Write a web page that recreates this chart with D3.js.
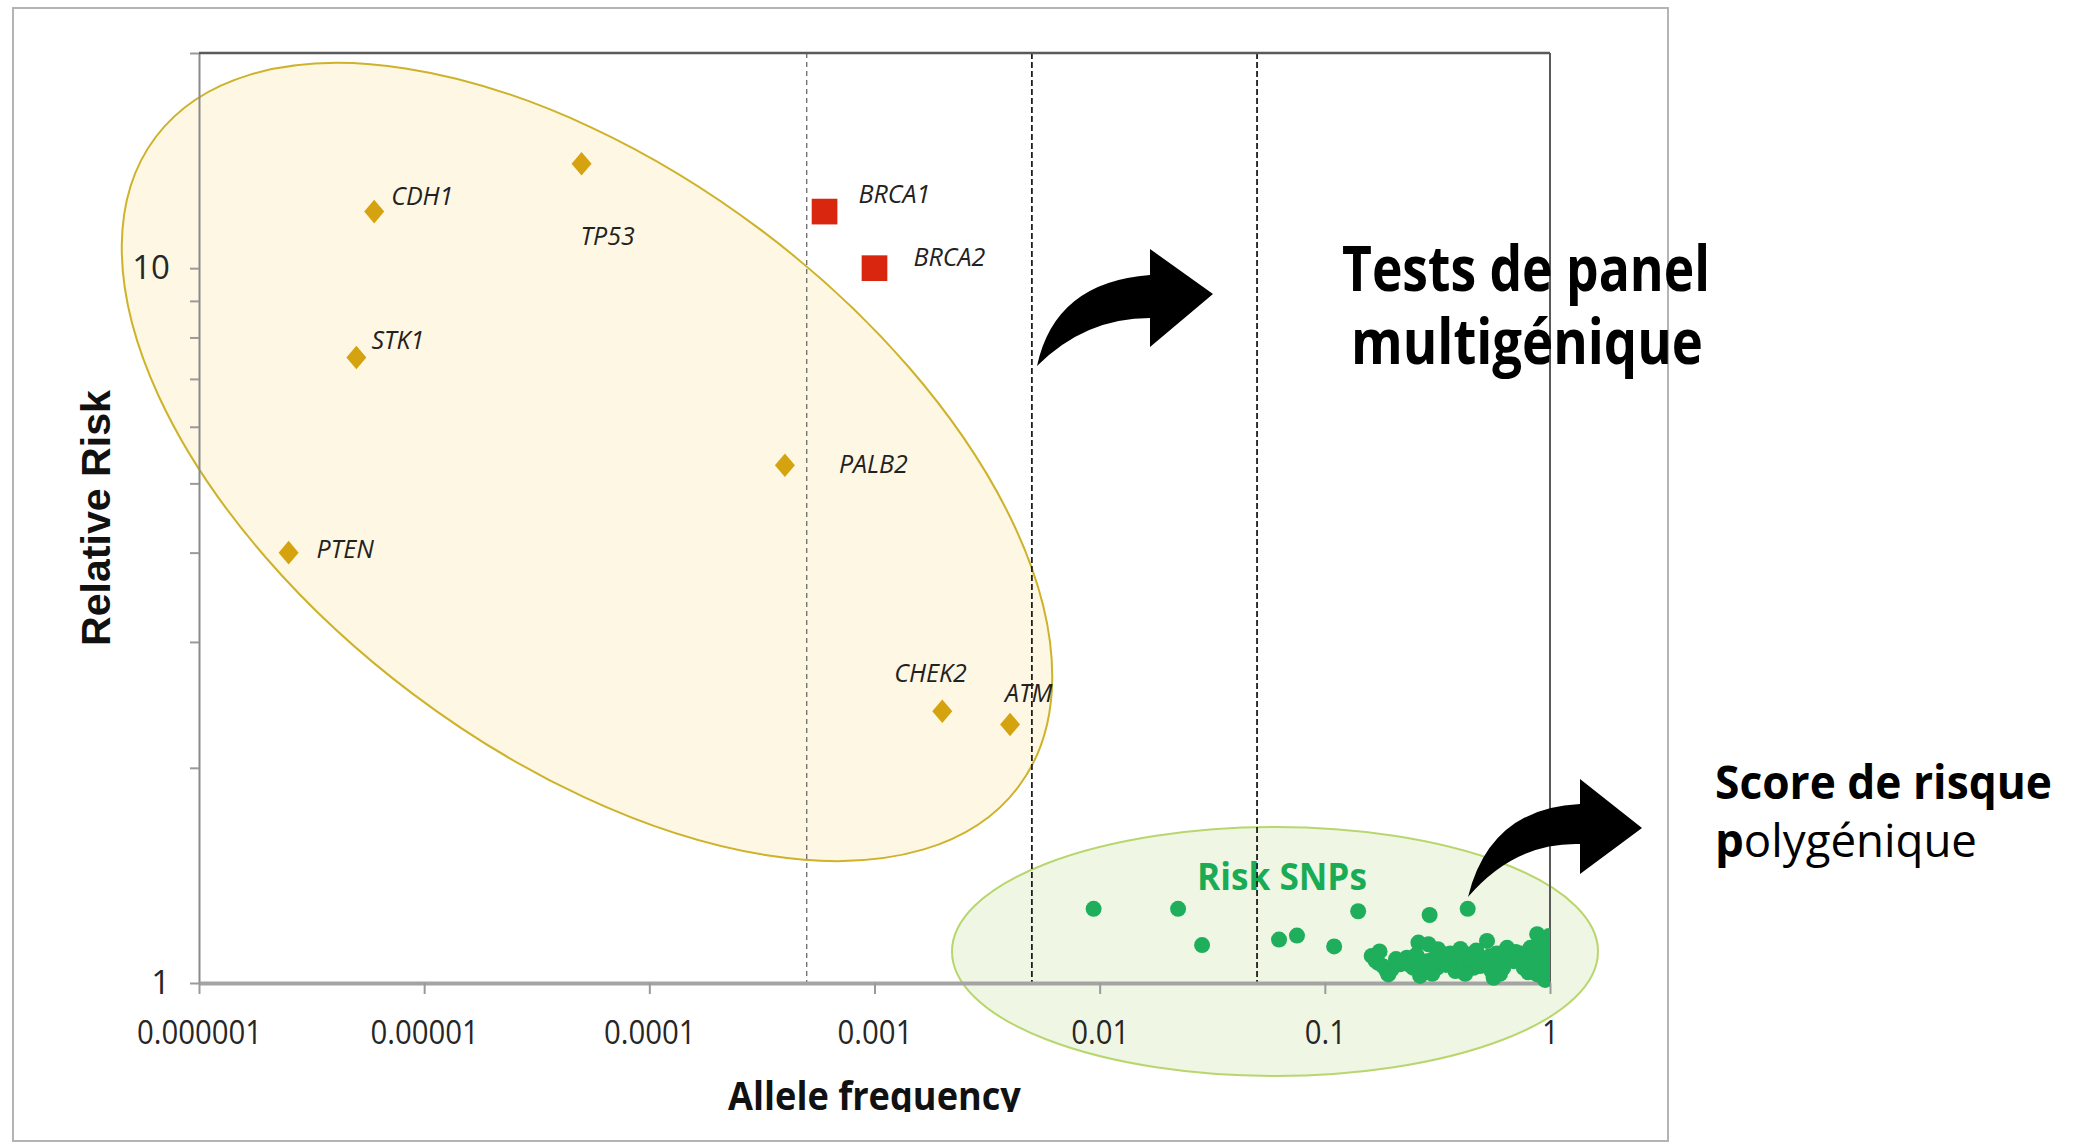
<!DOCTYPE html>
<html>
<head>
<meta charset="utf-8">
<script src="https://cdn.jsdelivr.net/npm/d3@7"></script>
<style>
  html, body { margin: 0; padding: 0; background: #ffffff; }
  svg { display: block; }
</style>
</head>
<body>
<svg id="chart" width="2077" height="1144"></svg>
<script>
// ---- Data -------------------------------------------------------------
// Moderate / high penetrance genes (allele frequency, relative risk)
const geneNames = ["CDH1", "TP53", "STK1", "PTEN", "PALB2", "CHEK2", "ATM"];
const geneFreq  = [6e-6, 5e-5, 5e-6, 2.5e-6, 4e-4, 0.002, 0.004];
const geneRisk  = [12, 14, 7.5, 4, 5.3, 2.4, 2.3];

// High penetrance BRCA genes
const brcaNames = ["BRCA1", "BRCA2"];
const brcaFreq  = [0.0006, 0.001];
const brcaRisk  = [12, 10];

// Common low-risk variants (risk SNPs)
const snpFreq = [
  0.0094, 0.0223, 0.0285, 0.0626, 0.0752, 0.110, 0.1406, 0.292, 0.431,
  0.1615, 0.1727, 0.1883, 0.1914, 0.2159, 0.2312, 0.2473, 0.2604, 0.2886, 0.2838,
  0.3145, 0.3485, 0.3861, 0.4277, 0.4577, 0.525, 0.5619, 0.6019, 0.6445, 0.69,
  0.7645, 0.8185, 0.877, 0.9072, 0.877, 0.99, 0.175, 0.207, 0.40, 0.49,
  0.74, 0.99, 0.99, 0.54, 0.38, 0.265, 0.33, 0.6, 0.95, 0.72,
  0.168, 0.182, 0.198, 0.222, 0.238, 0.255, 0.272, 0.30, 0.318, 0.345,
  0.36, 0.415, 0.44, 0.47, 0.505, 0.58, 0.62, 0.66, 0.705, 0.78,
  0.80, 0.84, 0.86, 0.93, 0.97, 0.965, 0.92, 0.55, 0.42, 0.30
];
const snpRisk = [
  1.27, 1.27, 1.13, 1.15, 1.165, 1.125, 1.26, 1.245, 1.27,
  1.091, 1.067, 1.039, 1.028, 1.062, 1.085, 1.05, 1.139, 1.133, 1.073,
  1.05, 1.085, 1.073, 1.097, 1.05, 1.145, 1.017, 1.073, 1.12, 1.073,
  1.05, 1.12, 1.17, 1.12, 1.028, 1.097, 1.107, 1.08, 1.116, 1.056,
  1.1, 1.039, 1.163, 1.09, 1.039, 1.023, 1.1, 1.03, 1.01, 1.08,
  1.075, 1.055, 1.045, 1.072, 1.06, 1.095, 1.045, 1.078, 1.115, 1.06,
  1.10, 1.065, 1.08, 1.11, 1.075, 1.10, 1.05, 1.09, 1.105, 1.075,
  1.035, 1.09, 1.06, 1.075, 1.13, 1.06, 1.04, 1.04, 1.03, 1.03
];

// Frequency thresholds shown as dashed separators
const thresholds = [0.0005, 0.005, 0.05];

// Axis ticks
const xTicks = [1e-6, 1e-5, 1e-4, 1e-3, 1e-2, 1e-1, 1];
const xTickLabels = ["0.000001", "0.00001", "0.0001", "0.001", "0.01", "0.1", "1"];
const yTicks = [1, 2, 3, 4, 5, 6, 7, 8, 9, 10, 20];
const yTickLabels = ["1", "", "", "", "", "", "", "", "", "10", ""];

// Label placement next to each marker (pixels)
const labelOffset = {
  CDH1: [17, -7], TP53: [-1, 81], STK1: [15, -8], PTEN: [28, 5],
  PALB2: [54, 8], CHEK2: [-48, -29], ATM: [-5, -22],
  BRCA1: [34, -9], BRCA2: [39, -2]
};

// ---- Layout -----------------------------------------------------------
const sans = "'Open Sans', 'Noto Sans', sans-serif";
const plot = { left: 199, right: 1550, top: 53, bottom: 983 };

const svg = d3.select("#chart");
const x = d3.scaleLog().domain([1e-6, 1]).range([plot.left, plot.right]);
const y = d3.scaleLog().domain([1, 20]).range([plot.bottom, plot.top]);

// Text helper: draws text at (tx, ty) and squeezes it horizontally to a given width
function fitText(parent, tx, ty, width, build) {
  const g = parent.append("g").attr("transform", `translate(${tx},${ty})`);
  const t = g.append("text");
  build(t);
  const len = t.node().getComputedTextLength();
  if (width && len > 0) t.attr("transform", `scale(${width / len},1)`);
  return t;
}

// Panel frame
svg.append("rect")
  .attr("x", 13).attr("y", 8).attr("width", 1655).attr("height", 1133)
  .attr("fill", "#ffffff").attr("stroke", "#b4b4b4").attr("stroke-width", 2);

// ---- Grouping zones ---------------------------------------------------
// Rare / moderate-risk variants
svg.append("ellipse")
  .attr("transform", "translate(587,462) rotate(37)")
  .attr("rx", 540).attr("ry", 290)
  .attr("fill", "#fef7e3").attr("stroke", "#cdb22a").attr("stroke-width", 2);

// Common low-risk variants
svg.append("ellipse")
  .attr("cx", 1275).attr("cy", 951.5).attr("rx", 323).attr("ry", 124.5)
  .attr("fill", "#eff7e4")
  .attr("stroke", "#b9d66e").attr("stroke-width", 2);

// "Risk SNPs" group label
fitText(svg, 1197, 890, 170, t => t.text("Risk SNPs")
  .attr("font-family", sans).attr("font-weight", 700).attr("font-size", 37)
  .attr("fill", "#1aab55"));

// ---- Threshold lines --------------------------------------------------
svg.append("g").selectAll("line").data(thresholds).join("line")
  .attr("x1", d => x(d)).attr("x2", d => x(d))
  .attr("y1", plot.top).attr("y2", plot.bottom)
  .attr("stroke", (d, i) => i === 0 ? "#6a6a6a" : "#1e1e1e")
  .attr("stroke-width", (d, i) => i === 0 ? 1.3 : 1.8)
  .attr("stroke-dasharray", (d, i) => i === 0 ? "5,4" : "6,3");

// ---- Axes -------------------------------------------------------------
const yAxis = svg.append("g")
  .attr("transform", `translate(${plot.left},0)`)
  .call(d3.axisLeft(y).tickValues(yTicks).tickSize(9).tickSizeOuter(0).tickPadding(20)
    .tickFormat((d, i) => yTickLabels[i]));
yAxis.select(".domain").attr("stroke", "#8a8a8a").attr("stroke-width", 2);
yAxis.selectAll(".tick line").attr("stroke", "#9a9a9a").attr("stroke-width", 2);
yAxis.selectAll(".tick text")
  .attr("font-family", sans).attr("font-size", 33).attr("fill", "#262626");

// Top and right frame of the plot area
svg.append("line")
  .attr("x1", plot.left).attr("x2", plot.right).attr("y1", plot.top).attr("y2", plot.top)
  .attr("stroke", "#5a5a5a").attr("stroke-width", 2.5);
svg.append("line")
  .attr("x1", plot.right).attr("x2", plot.right).attr("y1", plot.top).attr("y2", plot.bottom)
  .attr("stroke", "#5a5a5a").attr("stroke-width", 2);

const xAxis = svg.append("g")
  .attr("transform", `translate(0,${plot.bottom})`)
  .call(d3.axisBottom(x).tickValues(xTicks).tickSize(11).tickSizeOuter(0)
    .tickFormat((d, i) => xTickLabels[i]));
xAxis.select(".domain").attr("stroke", "#a4a4a4").attr("stroke-width", 4);
xAxis.selectAll(".tick line").attr("stroke", "#9a9a9a").attr("stroke-width", 2);
xAxis.selectAll(".tick text")
  .attr("font-family", sans).attr("font-size", 33).attr("fill", "#262626")
  .attr("y", 61).attr("dy", 0)
  .attr("transform", "scale(0.89,1)");

// Axis titles
fitText(svg, 110, 518, 256, t => t.text("Relative Risk")
  .attr("text-anchor", "middle")
  .attr("font-family", "'Liberation Sans', Arial, sans-serif")
  .attr("font-weight", 700).attr("font-size", 40).attr("fill", "#111"))
  .node().parentNode.setAttribute("transform", "translate(110,518) rotate(-90)");

svg.append("clipPath").attr("id", "titleClip")
  .append("rect").attr("x", 0).attr("y", 0).attr("width", 2077).attr("height", 1112);
const xTitle = svg.append("g").attr("clip-path", "url(#titleClip)");
fitText(xTitle, 728, 1110, 293, t => t.text("Allele frequency")
  .attr("font-family", sans).attr("font-weight", 700).attr("font-size", 40).attr("fill", "#111"));

// ---- Markers ----------------------------------------------------------
const tallDiamond = {
  draw(ctx, size) {
    const r = Math.sqrt(size) / 2;
    ctx.moveTo(0, -r * 1.18); ctx.lineTo(r, 0); ctx.lineTo(0, r * 1.18); ctx.lineTo(-r, 0);
    ctx.closePath();
  }
};

const genes = geneNames.map((n, i) => ({ name: n, f: geneFreq[i], r: geneRisk[i] }));
const brca = brcaNames.map((n, i) => ({ name: n, f: brcaFreq[i], r: brcaRisk[i] }));
const snps = snpFreq.map((f, i) => ({ f, r: snpRisk[i] }));

svg.append("g").selectAll("path").data(genes).join("path")
  .attr("transform", d => `translate(${x(d.f)},${y(d.r)})`)
  .attr("d", d3.symbol().type(tallDiamond).size(400))
  .attr("fill", "#d5a30f");

svg.append("g").selectAll("path").data(brca).join("path")
  .attr("transform", d => `translate(${x(d.f)},${y(d.r)})`)
  .attr("d", d3.symbol().type(d3.symbolSquare).size(660))
  .attr("fill", "#d8260f");

svg.append("g").selectAll("text").data(genes.concat(brca)).join("text")
  .attr("x", d => x(d.f) + labelOffset[d.name][0])
  .attr("y", d => y(d.r) + labelOffset[d.name][1])
  .attr("font-family", sans).attr("font-style", "italic").attr("font-size", 25)
  .attr("fill", "#222")
  .text(d => d.name);

svg.append("clipPath").attr("id", "plotClip")
  .append("rect").attr("x", plot.left).attr("y", 0)
  .attr("width", plot.right - plot.left).attr("height", plot.bottom + 20);

svg.append("g").attr("clip-path", "url(#plotClip)")
  .selectAll("circle").data(snps).join("circle")
  .attr("cx", d => x(d.f)).attr("cy", d => y(d.r)).attr("r", 8)
  .attr("fill", "#1fae5b");

// ---- Curved arrows ----------------------------------------------------
svg.append("path")
  .attr("d", "M1037,366 Q1055,282 1150,275 L1150,249 L1213,294 L1150,347 L1150,318 Q1085,318 1037,366 Z")
  .attr("fill", "#000");
svg.append("path")
  .attr("d", "M1468,897 Q1490,808 1580,804 L1580,779 L1642,828 L1580,874 L1580,844 Q1515,842 1468,897 Z")
  .attr("fill", "#000");

// ---- Side notes -------------------------------------------------------
fitText(svg, 1342, 291, 368, t => t.text("Tests de panel")
  .attr("font-family", sans).attr("font-weight", 700).attr("font-size", 63).attr("fill", "#000"));
fitText(svg, 1351, 364, 352, t => t.text("multigénique")
  .attr("font-family", sans).attr("font-weight", 700).attr("font-size", 63).attr("fill", "#000"));

fitText(svg, 1715, 799, 337, t => t.text("Score de risque")
  .attr("font-family", sans).attr("font-weight", 700).attr("font-size", 46).attr("fill", "#000"));
fitText(svg, 1715, 857, 262, t => {
  t.attr("font-family", sans).attr("font-size", 46).attr("fill", "#000");
  t.append("tspan").attr("font-weight", 700).text("p");
  t.append("tspan").attr("font-weight", 400).text("olygénique");
});
</script>
</body>
</html>
